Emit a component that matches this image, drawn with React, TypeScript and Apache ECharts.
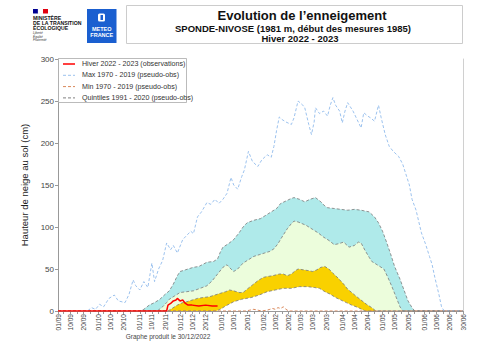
import React, { useEffect, useRef } from "react";
import * as echarts from "echarts";

// Calendar of the snow season (01/09 -> 30/06)
const monthLengths = [30, 31, 30, 31, 31, 28, 31, 30, 31, 30];
const monthNums = ["09", "10", "11", "12", "01", "02", "03", "04", "05", "06"];
const dates: string[] = [];
monthLengths.forEach((len, i) => {
  for (let d = 1; d <= len; d++) dates.push(String(d).padStart(2, "0") + "/" + monthNums[i]);
});

const labelDays = ["01", "10", "20"];
const tickDays = ["01", "05", "10", "15", "20", "25"];

// [dayIndex, height cm]
const observed2223 = [
  [0, 0], [81, 0], [82, 7], [84, 9], [86, 12], [88, 13], [89, 15], [91, 12], [93, 13], [95, 9],
  [97, 7], [100, 7], [105, 6], [110, 7], [115, 6], [119, 6],
];

const max7019 = [
  [0, 0], [22, 0], [25, 4], [28, 2], [31, 8], [34, 5], [38, 15], [42, 19], [45, 12], [50, 10],
  [53, 20], [56, 37], [58, 30], [61, 25], [64, 35], [67, 28], [70, 57], [72, 35], [75, 50], [78, 60],
  [81, 81], [84, 73], [86, 78], [89, 69], [93, 85], [96, 90], [99, 95], [101, 92], [104, 112], [107, 118],
  [111, 129], [114, 127], [117, 133], [120, 128], [123, 133], [126, 140], [129, 159], [131, 150], [134, 145], [137, 160],
  [139, 168], [142, 190], [145, 178], [149, 172], [152, 180], [156, 186], [159, 183], [161, 196], [163, 215], [165, 231],
  [167, 228], [170, 225], [174, 222], [176, 230], [179, 250], [182, 246], [184, 242], [187, 222], [189, 210], [191, 225],
  [192, 242], [195, 235], [198, 238], [201, 232], [203, 245], [205, 254], [207, 245], [210, 238], [212, 224], [214, 238],
  [216, 248], [218, 243], [220, 238], [223, 228], [226, 218], [228, 236], [231, 232], [233, 230], [236, 226], [239, 245],
  [241, 230], [244, 210], [247, 196], [250, 190], [254, 184], [257, 175], [259, 165], [262, 150], [264, 133], [267, 120],
  [271, 93], [274, 80], [277, 65], [279, 55], [281, 40], [284, 20], [286, 5], [288, 0], [302, 0],
];

const min7019 = [
  [0, 0], [140, 0], [143, 1], [146, 2], [149, 1], [152, 0], [156, 1], [158, 2], [160, 3], [162, 2],
  [164, 4], [166, 3], [168, 5], [170, 2], [172, 0], [302, 0],
];

const quintile80 = [
  [0, 0], [61, 0], [64, 2], [68, 7], [72, 10], [76, 14], [80, 20], [83, 24], [86, 32], [89, 42],
  [91, 47], [95, 49], [101, 52], [105, 53], [111, 58], [116, 59], [119, 62], [121, 70], [123, 76], [127, 80],
  [131, 85], [135, 93], [138, 100], [141, 105], [146, 108], [151, 110], [155, 114], [159, 118], [163, 122], [166, 128],
  [170, 131], [174, 134], [176, 135], [180, 133], [184, 130], [188, 133], [192, 135], [196, 130], [199, 125], [201, 123],
  [206, 122], [211, 121], [216, 120], [221, 121], [226, 120], [232, 118], [236, 112], [239, 105], [242, 95], [245, 82],
  [248, 68], [251, 53], [255, 38], [258, 25], [261, 12], [264, 4], [266, 0], [302, 0],
];

const quintile60 = [
  [0, 0], [74, 0], [78, 5], [81, 10], [83, 14], [87, 18], [91, 22], [96, 23], [101, 24], [106, 27],
  [111, 30], [115, 36], [119, 44], [123, 52], [126, 55], [129, 50], [131, 47], [134, 50], [138, 57], [142, 61],
  [146, 65], [150, 67], [154, 69], [158, 71], [161, 74], [164, 80], [167, 88], [171, 98], [174, 104], [176, 107],
  [179, 106], [182, 104], [185, 102], [190, 97], [194, 93], [198, 88], [202, 84], [206, 79], [209, 80], [213, 82],
  [217, 76], [221, 78], [224, 82], [226, 81], [229, 72], [232, 64], [234, 59], [238, 55], [243, 50], [246, 40],
  [249, 29], [252, 17], [255, 5], [257, 0], [302, 0],
];

const quintile40 = [
  [0, 0], [82, 0], [85, 3], [89, 7], [93, 10], [96, 11], [100, 13], [104, 15], [108, 16], [113, 17],
  [117, 19], [121, 21], [125, 23], [128, 25], [131, 24], [135, 22], [138, 22], [141, 26], [145, 31], [149, 36],
  [153, 40], [156, 41], [160, 42], [165, 44], [168, 44], [171, 42], [174, 44], [177, 48], [179, 50], [183, 49],
  [187, 48], [190, 47], [193, 49], [196, 52], [199, 53], [202, 50], [205, 45], [209, 39], [213, 32], [216, 26],
  [219, 22], [222, 18], [226, 13], [230, 8], [234, 4], [237, 0], [302, 0],
];

const quintile20 = [
  [0, 0], [118, 0], [121, 2], [125, 6], [131, 11], [137, 14], [144, 16], [150, 19], [156, 23], [162, 25],
  [168, 27], [174, 27], [180, 29], [186, 29], [191, 28], [195, 27], [199, 23], [203, 20], [207, 16], [211, 13],
  [215, 10], [219, 7], [224, 4], [229, 0], [302, 0],
];

const yTitle = "Hauteur de neige au sol (cm)";
const titleLines = [
  "Evolution de l\u2019enneigement",
  "SPONDE-NIVOSE (1981 m, d\u00e9but des mesures 1985)",
  "Hiver 2022 - 2023",
];
const legendItems = [
  { name: "Hiver 2022 - 2023 (observations)", color: "#ff0000", dash: false },
  { name: "Max 1970 - 2019 (pseudo-obs)", color: "#9cc2ee", dash: true },
  { name: "Min 1970 - 2019 (pseudo-obs)", color: "#d9875a", dash: true },
  { name: "Quintiles 1991 - 2020 (pseudo-obs)", color: "#808080", dash: true },
];
const footnote = "Graphe produit le 30/12/2022";

const FONT = "Liberation Sans, Arial, sans-serif";

export default function App() {
  const ref = useRef<HTMLDivElement>(null);
  useEffect(() => {
    if (!ref.current) return;
    const chart = echarts.init(ref.current, null, { renderer: "svg" });
    const quintileLine = { color: "#7a7a7a", width: 0.8, type: [3, 2] as any };
    const bandSeries = (name: string, data: number[][], fill: string, z: number) => ({
      name,
      type: "line",
      data,
      symbol: "none",
      z,
      lineStyle: quintileLine,
      areaStyle: { color: fill, opacity: 1 },
      silent: true,
    });
    const legendGraphics: any[] = [
      {
        type: "rect",
        shape: { x: 58.5, y: 58.5, width: 128, height: 44 },
        style: { fill: "#fff", stroke: "#aaa", lineWidth: 0.8 },
        z: 100,
      },
    ];
    legendItems.forEach((it, i) => {
      const y = 64 + i * 11.3;
      legendGraphics.push({
        type: "line",
        shape: { x1: 63, y1: y, x2: 75, y2: y },
        style: { stroke: it.color, lineWidth: it.dash ? 1 : 1.5, lineDash: it.dash ? [3, 2] : null },
        z: 101,
      });
      legendGraphics.push({
        type: "text",
        x: 82,
        y,
        style: { text: it.name, fill: "#333", font: `7.1px ${FONT}`, textVerticalAlign: "middle" },
        z: 101,
      });
    });
    const option: any = {
      animation: false,
      grid: { left: 58, right: 37, top: 59, bottom: 42, containLabel: false },
      xAxis: {
        type: "category",
        data: dates,
        boundaryGap: false,
        axisLine: { lineStyle: { color: "#999", width: 1 } },
        axisTick: {
          interval: (_i: number, v: string) => tickDays.includes(v.slice(0, 2)) || v === "30/06",
          length: 3,
          lineStyle: { color: "#999" },
        },
        axisLabel: {
          interval: (_i: number, v: string) => labelDays.includes(v.slice(0, 2)) || v === "30/06",
          rotate: 90,
          fontSize: 6.6,
          color: "#444",
          margin: 3,
          fontFamily: FONT,
        },
        splitLine: { show: false },
      },
      yAxis: [
        {
          type: "value",
          min: 0,
          max: 300,
          interval: 50,
          splitLine: { show: false },
          axisLine: { show: true, lineStyle: { color: "#999" } },
          axisTick: { show: true, length: 3, lineStyle: { color: "#999" } },
          axisLabel: { fontSize: 8, color: "#444", fontFamily: FONT, margin: 4 },
          name: yTitle,
          nameLocation: "middle",
          nameGap: 15,
          nameTextStyle: { fontSize: 9.5, color: "#222", fontFamily: FONT },
        },
        {
          type: "value",
          position: "right",
          min: 0,
          max: 300,
          interval: 50,
          splitLine: { show: false },
          axisLine: { show: true, lineStyle: { color: "#d0d0d0" } },
          axisTick: { show: false },
          axisLabel: { show: false },
        },
      ],
      series: [
        bandSeries("Q80", quintile80, "#afeaea", 1),
        bandSeries("Q60", quintile60, "#ecfddc", 2),
        bandSeries("Q40", quintile40, "#f9d100", 3),
        bandSeries("Q20", quintile20, "#ffffff", 4),
        {
          name: "Max",
          type: "line",
          data: max7019,
          symbol: "none",
          z: 5,
          lineStyle: { color: "#9cc2ee", width: 1, type: [3, 2] },
        },
        {
          name: "Min",
          type: "line",
          data: min7019,
          symbol: "none",
          z: 6,
          lineStyle: { color: "#d9875a", width: 1, type: [3, 2] },
        },
        {
          name: "Obs",
          type: "line",
          data: observed2223,
          symbol: "none",
          z: 7,
          lineStyle: { color: "#ff0000", width: 1.5 },
        },
      ],
      graphic: [
        // title box
        {
          type: "rect",
          shape: { x: 126.5, y: 5.5, width: 336, height: 38 },
          style: { fill: "none", stroke: "#cccccc", lineWidth: 1 },
        },
        {
          type: "text",
          x: 302,
          y: 15,
          style: { text: titleLines[0], fill: "#111", font: `bold 13px ${FONT}`, textAlign: "center", textVerticalAlign: "middle" },
        },
        {
          type: "text",
          x: 293,
          y: 28,
          style: { text: titleLines[1], fill: "#111", font: `bold 9.5px ${FONT}`, textAlign: "center", textVerticalAlign: "middle" },
        },
        {
          type: "text",
          x: 300,
          y: 38.5,
          style: { text: titleLines[2], fill: "#111", font: `bold 9.5px ${FONT}`, textAlign: "center", textVerticalAlign: "middle" },
        },
        // ministry logo
        { type: "rect", shape: { x: 33, y: 9, width: 5, height: 4.5 }, style: { fill: "#000091" } },
        { type: "rect", shape: { x: 38, y: 9, width: 5, height: 4.5 }, style: { fill: "#ffffff", stroke: "#eee", lineWidth: 0.3 } },
        { type: "rect", shape: { x: 43, y: 9, width: 5, height: 4.5 }, style: { fill: "#e1000f" } },
        { type: "text", x: 33, y: 15, style: { text: "MINISTÈRE", fill: "#111", font: `bold 5.2px ${FONT}` } },
        { type: "text", x: 33, y: 20, style: { text: "DE LA TRANSITION", fill: "#111", font: `bold 5.2px ${FONT}` } },
        { type: "text", x: 33, y: 25, style: { text: "ÉCOLOGIQUE", fill: "#111", font: `bold 5.2px ${FONT}` } },
        { type: "text", x: 33, y: 31.5, style: { text: "Liberté", fill: "#333", font: `italic 3.2px ${FONT}` } },
        { type: "text", x: 33, y: 35, style: { text: "Égalité", fill: "#333", font: `italic 3.2px ${FONT}` } },
        { type: "text", x: 33, y: 38.5, style: { text: "Fraternité", fill: "#333", font: `italic 3.2px ${FONT}` } },
        // Meteo-France logo
        { type: "rect", shape: { x: 87, y: 9, width: 29.5, height: 34 }, style: { fill: "#1a5fd0" } },
        { type: "rect", shape: { x: 98, y: 13.5, width: 7, height: 8, r: 1.5 }, style: { fill: "#ffffff" } },
        { type: "rect", shape: { x: 100.5, y: 15, width: 2.5, height: 5 }, style: { fill: "#1a5fd0" } },
        { type: "text", x: 101.75, y: 29, style: { text: "METEO", fill: "#fff", font: `bold 5.5px ${FONT}`, textAlign: "center", textVerticalAlign: "middle" } },
        { type: "text", x: 101.75, y: 35, style: { text: "FRANCE", fill: "#fff", font: `bold 5.5px ${FONT}`, textAlign: "center", textVerticalAlign: "middle" } },
        // footnote
        {
          type: "text",
          x: 168,
          y: 336,
          style: { text: footnote, fill: "#444", font: `6.5px ${FONT}`, textAlign: "center", textVerticalAlign: "middle" },
        },
        ...legendGraphics,
      ],
    };
    chart.setOption(option);
    return () => chart.dispose();
  }, []);
  return <div ref={ref} style={{ width: 500, height: 353, position: "absolute", left: 0, top: 0 }} />;
}
